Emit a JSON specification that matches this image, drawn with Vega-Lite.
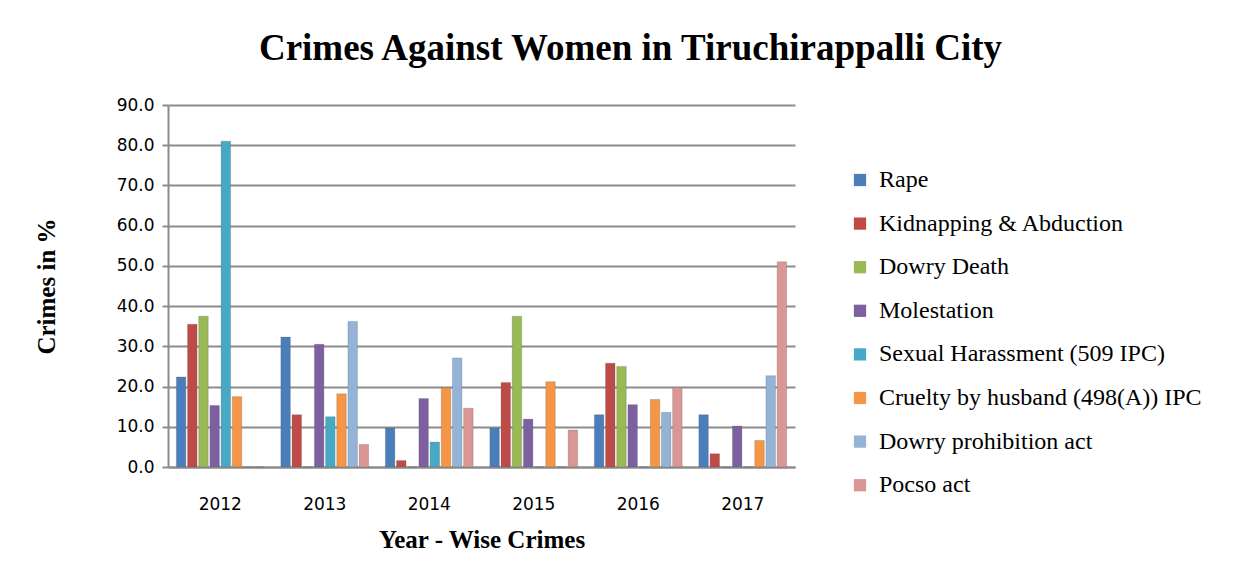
{
  "$schema": "https://vega.github.io/schema/vega-lite/v6.json",
  "width": 627,
  "height": 362,
  "autosize": {"type": "none"},
  "padding": {"left": 168, "top": 105, "right": 453, "bottom": 121},
  "background": "white",
  "title": {
    "text": "Crimes Against Women in Tiruchirappalli City",
    "font": "Liberation Serif",
    "fontSize": 37,
    "fontWeight": "bold",
    "color": "black",
    "anchor": "middle",
    "dx": 149,
    "offset": 28
  },
  "data": {
    "values": [
      {"year": "2012", "crime": "Rape", "value": 22.4},
      {"year": "2012", "crime": "Kidnapping & Abduction", "value": 35.5},
      {"year": "2012", "crime": "Dowry Death", "value": 37.5},
      {"year": "2012", "crime": "Molestation", "value": 15.3},
      {"year": "2012", "crime": "Sexual Harassment (509 IPC)", "value": 81.0},
      {"year": "2012", "crime": "Cruelty by husband (498(A)) IPC", "value": 17.5},
      {"year": "2012", "crime": "Dowry prohibition act", "value": 0},
      {"year": "2012", "crime": "Pocso act", "value": 0},
      {"year": "2013", "crime": "Rape", "value": 32.3},
      {"year": "2013", "crime": "Kidnapping & Abduction", "value": 13.0},
      {"year": "2013", "crime": "Dowry Death", "value": 0},
      {"year": "2013", "crime": "Molestation", "value": 30.5},
      {"year": "2013", "crime": "Sexual Harassment (509 IPC)", "value": 12.5},
      {"year": "2013", "crime": "Cruelty by husband (498(A)) IPC", "value": 18.2},
      {"year": "2013", "crime": "Dowry prohibition act", "value": 36.2},
      {"year": "2013", "crime": "Pocso act", "value": 5.6},
      {"year": "2014", "crime": "Rape", "value": 9.7},
      {"year": "2014", "crime": "Kidnapping & Abduction", "value": 1.6},
      {"year": "2014", "crime": "Dowry Death", "value": 0},
      {"year": "2014", "crime": "Molestation", "value": 17.0},
      {"year": "2014", "crime": "Sexual Harassment (509 IPC)", "value": 6.2},
      {"year": "2014", "crime": "Cruelty by husband (498(A)) IPC", "value": 19.7},
      {"year": "2014", "crime": "Dowry prohibition act", "value": 27.1},
      {"year": "2014", "crime": "Pocso act", "value": 14.6},
      {"year": "2015", "crime": "Rape", "value": 9.7},
      {"year": "2015", "crime": "Kidnapping & Abduction", "value": 21.0},
      {"year": "2015", "crime": "Dowry Death", "value": 37.5},
      {"year": "2015", "crime": "Molestation", "value": 11.9},
      {"year": "2015", "crime": "Sexual Harassment (509 IPC)", "value": 0},
      {"year": "2015", "crime": "Cruelty by husband (498(A)) IPC", "value": 21.2},
      {"year": "2015", "crime": "Dowry prohibition act", "value": 0},
      {"year": "2015", "crime": "Pocso act", "value": 9.2},
      {"year": "2016", "crime": "Rape", "value": 13.0},
      {"year": "2016", "crime": "Kidnapping & Abduction", "value": 25.8},
      {"year": "2016", "crime": "Dowry Death", "value": 25.0},
      {"year": "2016", "crime": "Molestation", "value": 15.5},
      {"year": "2016", "crime": "Sexual Harassment (509 IPC)", "value": 0},
      {"year": "2016", "crime": "Cruelty by husband (498(A)) IPC", "value": 16.8},
      {"year": "2016", "crime": "Dowry prohibition act", "value": 13.6},
      {"year": "2016", "crime": "Pocso act", "value": 19.8},
      {"year": "2017", "crime": "Rape", "value": 13.0},
      {"year": "2017", "crime": "Kidnapping & Abduction", "value": 3.3},
      {"year": "2017", "crime": "Dowry Death", "value": 0},
      {"year": "2017", "crime": "Molestation", "value": 10.2},
      {"year": "2017", "crime": "Sexual Harassment (509 IPC)", "value": 0},
      {"year": "2017", "crime": "Cruelty by husband (498(A)) IPC", "value": 6.6},
      {"year": "2017", "crime": "Dowry prohibition act", "value": 22.7},
      {"year": "2017", "crime": "Pocso act", "value": 51.0}
    ]
  },
  "mark": {"type": "bar", "stroke": "#555555", "strokeWidth": 0.4, "strokeOpacity": 0.6},
  "encoding": {
    "x": {
      "field": "year",
      "type": "nominal",
      "scale": {"paddingInner": 0.16, "paddingOuter": 0.08},
      "axis": {
        "title": "Year - Wise Crimes",
        "titleFont": "Liberation Serif",
        "titleFontSize": 25,
        "titleFontWeight": "bold",
        "titleColor": "black",
        "titlePadding": 15,
        "labelFont": "DejaVu Sans",
        "labelFontSize": 17,
        "labelColor": "black",
        "labelAngle": 0,
        "labelPadding": 29,
        "ticks": false,
        "domainColor": "#8c8c8c",
        "domainWidth": 2
      }
    },
    "xOffset": {
      "field": "crime",
      "type": "nominal",
      "sort": ["Rape", "Kidnapping & Abduction", "Dowry Death", "Molestation", "Sexual Harassment (509 IPC)", "Cruelty by husband (498(A)) IPC", "Dowry prohibition act", "Pocso act"],
      "scale": {"paddingInner": 0.15}
    },
    "y": {
      "field": "value",
      "type": "quantitative",
      "scale": {"domain": [0, 90], "nice": false},
      "axis": {
        "title": "Crimes in %",
        "titleFont": "Liberation Serif",
        "titleFontSize": 25,
        "titleFontWeight": "bold",
        "titleColor": "black",
        "titlePadding": 57,
        "values": [0, 10, 20, 30, 40, 50, 60, 70, 80, 90],
        "format": ".1f",
        "labelFont": "DejaVu Sans",
        "labelFontSize": 17,
        "labelColor": "black",
        "labelPadding": 8,
        "tickSize": 6,
        "tickColor": "#8c8c8c",
        "tickWidth": 2,
        "grid": true,
        "gridColor": "#8c8c8c",
        "gridWidth": 2,
        "domainColor": "#8c8c8c",
        "domainWidth": 2
      }
    },
    "color": {
      "field": "crime",
      "type": "nominal",
      "sort": ["Rape", "Kidnapping & Abduction", "Dowry Death", "Molestation", "Sexual Harassment (509 IPC)", "Cruelty by husband (498(A)) IPC", "Dowry prohibition act", "Pocso act"],
      "scale": {
        "domain": ["Rape", "Kidnapping & Abduction", "Dowry Death", "Molestation", "Sexual Harassment (509 IPC)", "Cruelty by husband (498(A)) IPC", "Dowry prohibition act", "Pocso act"],
        "range": ["#4A7EBB", "#BE4B48", "#98B954", "#7D60A0", "#46AAC5", "#F59546", "#95B3D7", "#D99694"]
      },
      "legend": {
        "title": null,
        "orient": "none",
        "legendX": 680,
        "legendY": 63,
        "symbolType": "square",
        "symbolSize": 150,
        "symbolStrokeWidth": 0,
        "labelFont": "Liberation Serif",
        "labelFontSize": 24,
        "labelColor": "black",
        "labelOffset": 7,
        "rowPadding": 19.6,
        "labelLimit": 400
      }
    }
  },
  "config": {
    "view": {"stroke": null}
  }
}
